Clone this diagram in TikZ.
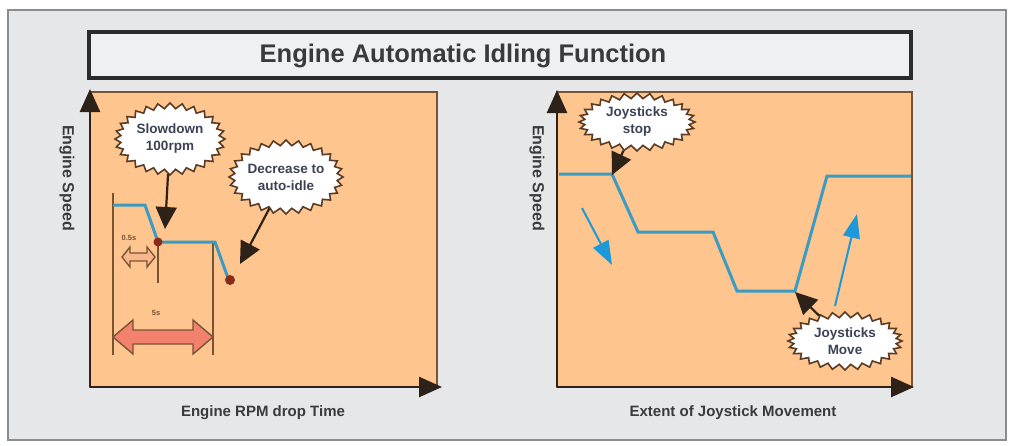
\documentclass[tikz,border=0pt]{standalone}
\usepackage{fontspec}
\setmainfont{Liberation Sans}
\usetikzlibrary{arrows.meta,shapes.symbols}
\definecolor{bg}{HTML}{E6E7E9}
\definecolor{framec}{HTML}{8A8C8F}
\definecolor{titlefill}{HTML}{EEF0F3}
\definecolor{titleborder}{HTML}{2B2B2D}
\definecolor{panelc}{HTML}{FFC58E}
\definecolor{pborder}{HTML}{7A5234}
\definecolor{axisc}{HTML}{2E2218}
\definecolor{curvec}{HTML}{3A9CC2}
\definecolor{bluearr}{HTML}{1C9AD8}
\definecolor{txt}{HTML}{3A3A3C}
\definecolor{bursttxt}{HTML}{3C4256}
\definecolor{burstc}{HTML}{5B3B24}
\definecolor{salmonc}{HTML}{F2826E}
\definecolor{lightor}{HTML}{F8B88C}
\definecolor{dotc}{HTML}{8A2C1C}
\begin{document}
\begin{tikzpicture}[x=1pt,y=-1pt,
  callout/.style={starburst, starburst points=28, starburst point height=5.5pt,
    random starburst=0, draw=burstc, line width=1.6pt, fill=white, inner sep=0pt},
  callouttext/.style={align=center, font=\fontsize{13.5}{17}\selectfont\bfseries, text=bursttxt, inner sep=0pt},
  callarrow/.style={draw=axisc, line width=2.2pt, -{Triangle[length=22pt,width=21pt]}},
  axis/.style={draw=axisc, line width=2.6pt, -{Triangle[length=23pt,width=20pt]}},
  panel/.style={fill=panelc, draw=pborder, line width=2pt},
  curve/.style={draw=curvec, line width=3pt, line join=miter},
  guide/.style={draw=pborder, line width=2pt},
  bluearrow/.style={draw=bluearr, line width=2pt, -{Triangle[length=24pt,width=17pt]}},
  dblarrow/.style={draw=pborder, line width=1.4pt, line join=miter},
  axlabel/.style={font=\fontsize{15}{17}\selectfont\bfseries, text=txt},
  small/.style={font=\fontsize{7.5}{8}\selectfont\bfseries, text=pborder}
]
\useasboundingbox (0,0) rectangle (1010,445);
\fill[white] (0,0) rectangle (1010,445);
% outer frame
\draw[fill=bg, draw=framec, line width=2pt] (8,10) rectangle (1006,440);
% title
\node[draw=titleborder, line width=4pt, fill=titlefill, minimum width=822pt, minimum height=46pt, inner sep=0pt] (titlebox) at (500,55) {};
\node[font=\fontsize{25.5}{28}\selectfont\bfseries, text=txt] (title) at (463,56) {Engine Automatic Idling Function};

% ---------- left panel ----------
\draw[panel] (90,92) rectangle (437,387);
\coordinate (lo) at (90,387);
\coordinate (lytop) at (90,89);
\coordinate (lxend) at (442,387);
\draw[axis] (lo) -- (lytop);
\draw[axis] (lo) -- (lxend);
\node[axlabel, rotate=-90, font=\fontsize{16}{18}\selectfont\bfseries] (lylab) at (67,178) {Engine Speed};
\node[axlabel] (lxlab) at (263,413) {Engine RPM drop Time};

% guides
\draw[guide] (113,193) -- (113,355);
\draw[guide] (158,242) -- (158,283);
\draw[guide] (213,242) -- (213,355);
% curve
\draw[curve] (113,205) -- (145,205) -- (158,242) -- (215,242) -- (228,278);
\fill[dotc] (158,242) circle (4.5);
\fill[dotc] (230,280) circle (5);
% small double arrow
\draw[dblarrow, fill=lightor] (122,257) -- (130,247) -- (130,253) -- (147,253) -- (147,247) -- (155,257)
  -- (147,267) -- (147,261) -- (130,261) -- (130,267) -- cycle;
\node[small] (halfs) at (129,238) {0.5s};
% big double arrow
\draw[dblarrow, fill=salmonc] (113,337) -- (133,320) -- (133,330) -- (193,330) -- (193,320) -- (213,337)
  -- (193,354) -- (193,344) -- (133,344) -- (133,354) -- cycle;
\node[small] (fives) at (156,313) {5s};

% callouts
\node[callout, minimum width=110pt, minimum height=72pt] (sd) at (170,139) {};
\node[callouttext] (sdtxt) at (sd.center) {Slowdown\\100rpm};
\coordinate (sdtip) at (165,229);
\draw[callarrow] (sd) -- (sdtip);
\node[callout, minimum width=114pt, minimum height=74pt] (dec) at (286,177) {};
\node[callouttext] (dectxt) at (dec.center) {Decrease to\\auto-idle};
\coordinate (dectip) at (240,264);
\draw[callarrow] (dec) -- (dectip);

% ---------- right panel ----------
\draw[panel] (557,92) rectangle (912,387);
\coordinate (ro) at (557,387);
\coordinate (rytop) at (557,90);
\coordinate (rxend) at (914,387);
\draw[axis] (ro) -- (rytop);
\draw[axis] (ro) -- (rxend);
\node[axlabel, rotate=-90, font=\fontsize{16}{18}\selectfont\bfseries] (rylab) at (537,178) {Engine Speed};
\node[axlabel] (rxlab) at (733,413) {Extent of Joystick Movement};

\draw[curve] (559,174) -- (612,174) -- (638,232) -- (713,232) -- (737,291) -- (795,291) -- (827,176) -- (911,176);

\draw[bluearrow] (582,208) -- (612,265);
\draw[bluearrow] (835,306) -- (857,214);

\node[callout, minimum width=116pt, minimum height=58pt] (jstop) at (637,122) {};
\node[callouttext] (jstoptxt) at (jstop.center) {Joysticks\\stop};
\coordinate (jstoptip) at (612,175);
\draw[callarrow] (jstop) -- (jstoptip);
\node[callout, minimum width=114pt, minimum height=58pt] (jmove) at (845,341) {};
\node[callouttext] (jmovetxt) at (jmove.center) {Joysticks\\Move};
\coordinate (jmovetip) at (795,292);
\draw[callarrow] (jmove) -- (jmovetip);
\end{tikzpicture}
\end{document}
